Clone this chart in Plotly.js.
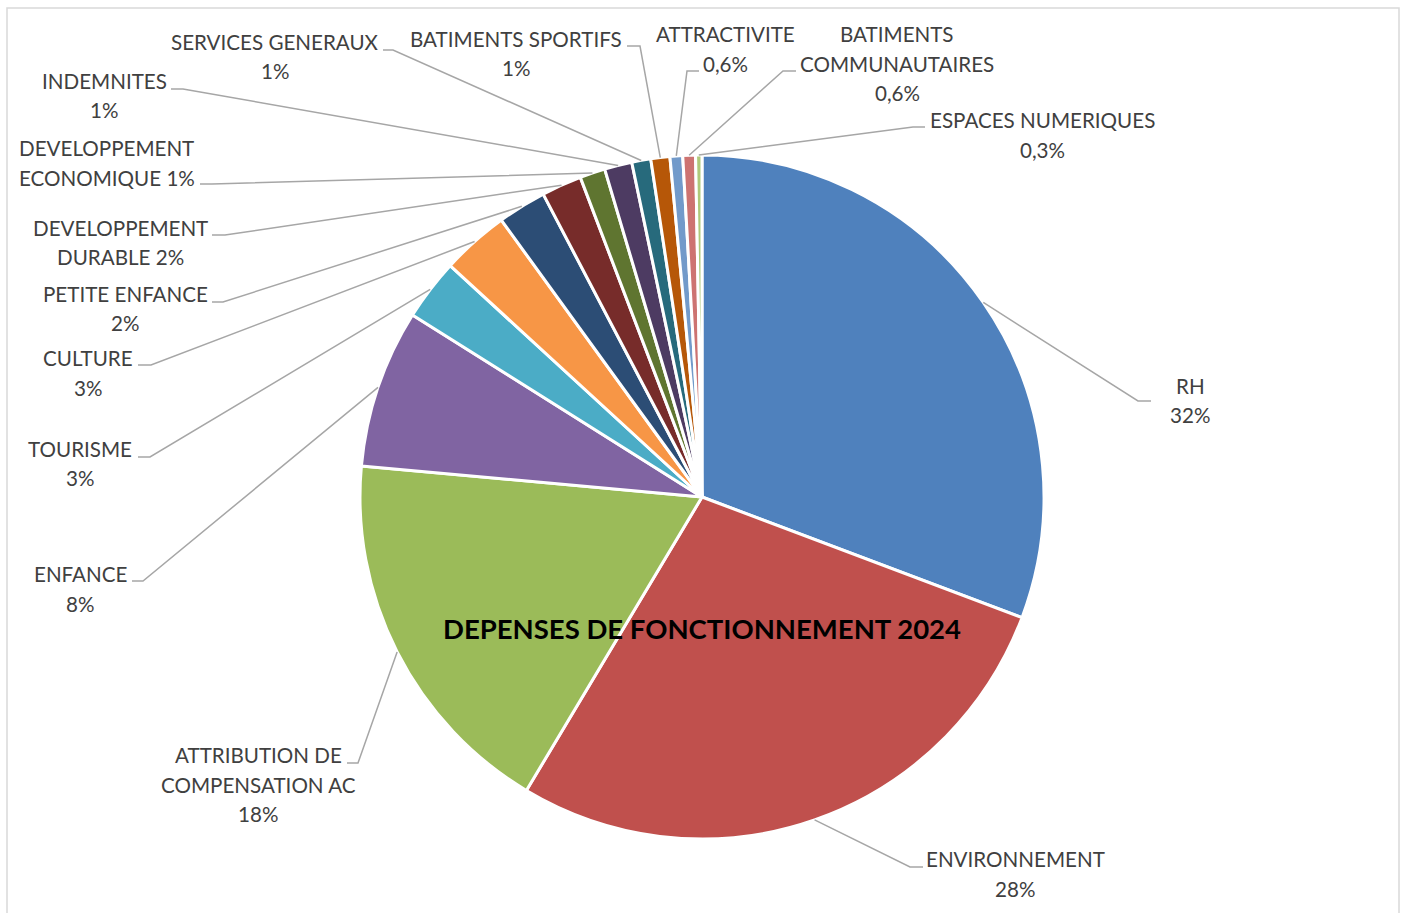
<!DOCTYPE html>
<html>
<head>
<meta charset="utf-8">
<script src="https://cdn.plot.ly/plotly-3.0.1.min.js"></script>
<style>html,body{margin:0;padding:0;background:#fff;}#chart{width:1403px;height:913px;}</style>
</head>
<body>
<div id="chart"></div>
<script>
// ---- data ----
const categories = ['RH','ENVIRONNEMENT','ATTRIBUTION DE COMPENSATION AC','ENFANCE','TOURISME','CULTURE','PETITE ENFANCE','DEVELOPPEMENT DURABLE','DEVELOPPEMENT ECONOMIQUE','INDEMNITES','SERVICES GENERAUX','BATIMENTS SPORTIFS','ATTRACTIVITE','BATIMENTS COMMUNAUTAIRES','ESPACES NUMERIQUES'];
const values = [30.8, 27.9, 17.9, 7.5, 2.9, 3.2, 2.3, 1.9, 1.2, 1.3, 0.9, 0.9, 0.6, 0.6, 0.3];
const pctLabels = ['32%','28%','18%','8%','3%','3%','2%','2%','1%','1%','1%','1%','0,6%','0,6%','0,3%'];
const colors = ['#4F81BD','#C0504D','#9BBB59','#8064A2','#4BACC6','#F79646','#2C4D75','#772C2A','#5F7530','#4D3B62','#276A7C','#B65708','#729ACA','#CD7371','#AFC97A'];
const chartTitle = 'DEPENSES DE FONCTIONNEMENT 2024';

// ---- layout of labels (pixel positions) ----
const W = 1403, H = 913;
const CX = 702, CY = 497, R = 342;
const wordsPerLine = [[1,1],[1,1],[2,2,1],[1,1],[1,1],[1,1],[2,1],[1,2],[1,2],[1,1],[2,1],[2,1],[1,1],[1,1,1],[2,1]];
const labelPos = [[1190,386],[1015,859],[258,755],[80,574],[80,449],[88,358],[125,294],[120,228],[107,148],[104,81],[275,42],[516,39],[725,34],[897,34],[1042,120]];
const elbows = [[1138,401],[910,867],[358,763],[143,581],[150,457],[151,365],[223,302],[225,235],[212,184],[183,89],[393,50],[640,46],[687,71],[783,71],[913,127]];
const ends = [[1151,401],[923,867],[347,763],[132,581],[138,457],[138,365],[212,302],[212,235],[200,184],[171,89],[383,50],[627,46],[699,71],[796,71],[925,127]];
const LINE_H = 29.5;

const fx = x => x / W;
const fy = y => 1 - y / H;

const total = values.reduce((a,b)=>a+b,0);
let cum = 0;
const shapes = [];
const annotations = [];
values.forEach((v,i)=>{
  const mid = (cum + v/2) / total * 2 * Math.PI;
  cum += v;
  const sx = CX + R * Math.sin(mid), sy = CY - R * Math.cos(mid);
  const e = elbows[i], t = ends[i];
  shapes.push({type:'path', xref:'paper', yref:'paper',
    path:`M ${fx(sx)} ${fy(sy)} L ${fx(e[0])} ${fy(e[1])} L ${fx(t[0])} ${fy(t[1])}`,
    line:{color:'#A6A6A6', width:1.5}});
  const words = (categories[i] + ' ' + pctLabels[i]).split(' ');
  let k = 0;
  wordsPerLine[i].forEach((n,li)=>{
    const txt = words.slice(k,k+n).join(' ');
    k += n;
    annotations.push({xref:'paper', yref:'paper', x:fx(labelPos[i][0]), y:fy(labelPos[i][1] + li*LINE_H),
      xanchor:'center', yanchor:'middle', showarrow:false, text:txt,
      font:{family:'Lato, sans-serif', size:20.6, color:'#404040'}});
  });
});

annotations.push({xref:'paper', yref:'paper', x:fx(702), y:fy(628), xanchor:'center', yanchor:'middle', showarrow:false,
  text:'<b>'+chartTitle+'</b>', font:{family:'Lato, sans-serif', size:27.5, color:'#000000'}});

shapes.push({type:'rect', xref:'paper', yref:'paper', x0:fx(7), x1:fx(1399), y0:-0.02, y1:fy(8),
  line:{color:'#D9D9D9', width:1.5}, layer:'below'});

const trace = {
  type:'pie', labels:categories, values:values, sort:false, direction:'clockwise', rotation:0,
  textinfo:'none', hoverinfo:'label+percent',
  marker:{colors:colors, line:{color:'#FFFFFF', width:3}},
  domain:{x:[(CX-R)/W,(CX+R)/W], y:[(H-CY-R)/H,(H-CY+R)/H]}
};

Plotly.newPlot('chart',[trace],{
  width:W, height:H, margin:{l:0,r:0,t:0,b:0}, showlegend:false,
  paper_bgcolor:'#FFFFFF', shapes:shapes, annotations:annotations
},{displayModeBar:false, staticPlot:true});
</script>
</body>
</html>
